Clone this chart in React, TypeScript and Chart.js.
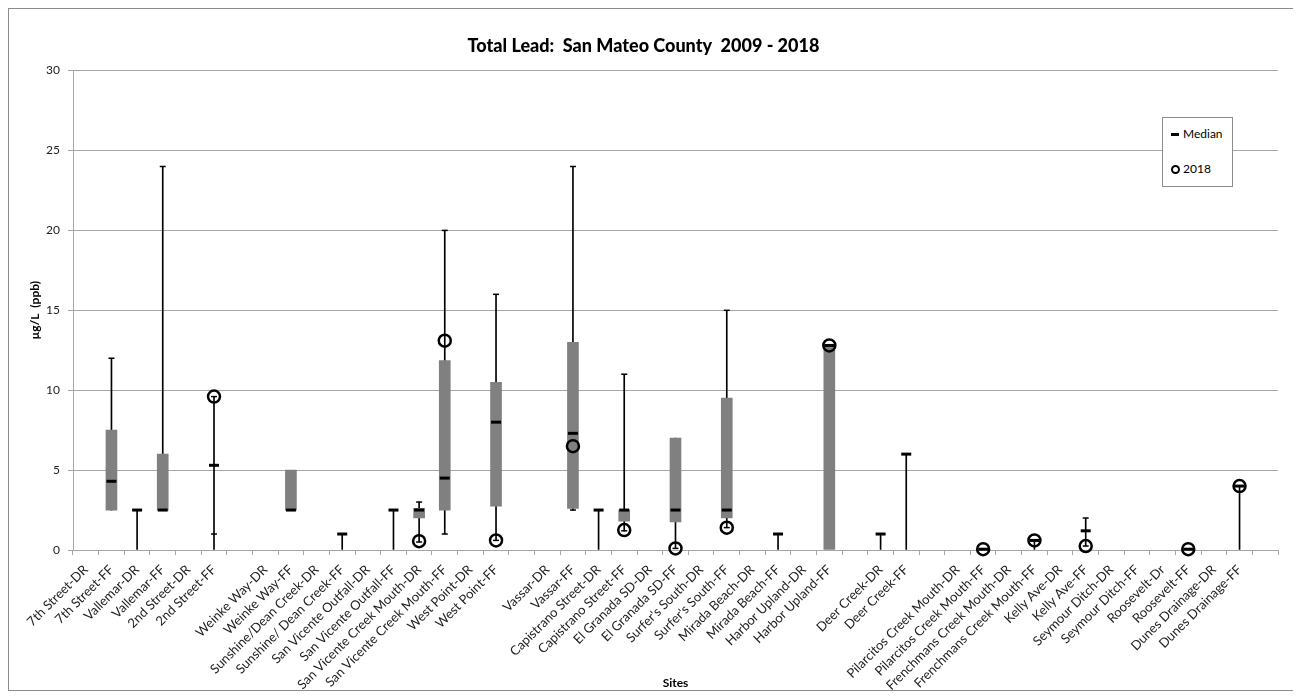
import React, { useEffect, useRef } from "react";
import { Chart, registerables } from "chart.js";

Chart.register(...registerables);

const N = null;

const SITES: string[] = [
  "7th Street-DR", "7th Street-FF", "Vallemar-DR", "Vallemar-FF", "2nd Street-DR", "2nd Street-FF", "",
  "Weinke Way-DR", "Weinke Way-FF", "Sunshine/Dean Creek-DR", "Sunshine/ Dean Creek-FF",
  "San Vicente Outfall-DR", "San Vicente Outfall-FF", "San Vicente Creek Mouth-DR", "San Vicente Creek Mouth-FF",
  "West Point-DR", "West Point-FF", "",
  "Vassar-DR", "Vassar-FF", "Capistrano Street-DR", "Capistrano Street-FF", "El Granada SD-DR", "El Granada SD-FF",
  "Surfer's South-DR", "Surfer's South-FF", "Mirada Beach-DR", "Mirada Beach-FF", "Harbor Upland-DR", "Harbor Upland-FF", "",
  "Deer Creek-DR", "Deer Creek-FF", "",
  "Pilarcitos Creek Mouth-DR", "Pilarcitos Creek Mouth-FF", "Frenchmans Creek Mouth-DR", "Frenchmans Creek Mouth-FF",
  "Kelly Ave-DR", "Kelly Ave-FF", "Seymour Ditch-DR", "Seymour Ditch-FF", "Roosevelt-Dr", "Roosevelt-FF",
  "Dunes Drainage-DR", "Dunes Drainage-FF", "",
];

// Box: first quartile
const Q1: (number | null)[] = [
  N, 2.5, N, 2.5, N, N, N, N, 2.5, N,
  N, N, N, 2.0, 2.5, N, 2.75, N, N, 2.6,
  N, 1.8, N, 1.75, N, 2.0, N, N, N, 0,
  N, N, N, N, N, N, N, N, N, N,
  N, N, N, N, N, N, N,
];
// Box: third quartile
const Q3: (number | null)[] = [
  N, 7.5, N, 6.0, N, N, N, N, 5.0, N,
  N, N, N, 2.6, 11.85, N, 10.5, N, N, 13.0,
  N, 2.5, N, 7.0, N, 9.5, N, N, N, 12.8,
  N, N, N, N, N, N, N, N, N, N,
  N, N, N, N, N, N, N,
];
const WHISKER_LOW: (number | null)[] = [
  N, 2.5, 0, 2.5, N, 0, N, N, N, N,
  0, N, 0, 0.5, 1.0, N, 0.6, N, N, 2.5,
  0, 1.2, N, 0.1, N, 1.4, N, 0, N, N,
  N, 0, 0, N, N, N, N, 0, N, 0.25,
  N, N, N, N, N, 0, N,
];
const WHISKER_HIGH: (number | null)[] = [
  N, 12, 2.5, 24, N, 9.6, N, N, N, N,
  1.0, N, 2.5, 3.0, 20, N, 16, N, N, 24,
  2.5, 11, N, 7.0, N, 15, N, 1.0, N, N,
  N, 1.0, 6.0, N, N, N, N, 0.6, N, 2.0,
  N, N, N, N, N, 4.0, N,
];
const MAX_CAP: (number | null)[] = [
  N, 12, N, 24, N, 9.6, N, N, N, N,
  N, N, N, 3.0, 20, N, 16, N, N, 24,
  N, 11, N, N, N, 15, N, N, N, N,
  N, N, N, N, N, N, N, N, N, 2.0,
  N, N, N, N, N, N, N,
];
const MIN_CAP: (number | null)[] = [
  N, N, N, N, N, 1.0, N, N, N, N,
  N, N, N, 0.5, 1.0, N, 0.6, N, N, 2.5,
  N, 1.2, N, 0.1, N, 1.4, N, N, N, N,
  N, N, N, N, N, N, N, N, N, 0.25,
  N, N, N, N, N, N, N,
];
const MEDIAN: (number | null)[] = [
  N, 4.3, 2.5, 2.5, N, 5.3, N, N, 2.5, N,
  1.0, N, 2.5, 2.5, 4.5, N, 8.0, N, N, 7.3,
  2.5, 2.5, N, 2.5, N, 2.5, N, 1.0, N, 12.8,
  N, 1.0, 6.0, N, N, 0.05, N, 0.6, N, 1.2,
  N, N, N, 0.05, N, 4.0, N,
];
const Y2018: (number | null)[] = [
  N, N, N, N, N, 9.6, N, N, N, N,
  N, N, N, 0.55, 13.1, N, 0.6, N, N, 6.5,
  N, 1.25, N, 0.1, N, 1.4, N, N, N, 12.8,
  N, N, N, N, N, 0.05, N, 0.6, N, 0.25,
  N, N, N, 0.05, N, 4.0, N,
];

const Y_TICKS = [0, 5, 10, 15, 20, 25, 30];

const FONT = "Lato, 'Open Sans', sans-serif";
const GRID = "#a6a6a6";

export default function App() {
  const ref = useRef<HTMLCanvasElement>(null);

  useEffect(() => {
    const boxes = Q1.map((q, i) => (q == null || Q3[i] == null ? null : [q, Q3[i] as number]));
    const whiskers = WHISKER_LOW.map((lo, i) =>
      lo == null || WHISKER_HIGH[i] == null ? null : [lo, WHISKER_HIGH[i] as number]
    );

    const chart = new Chart(ref.current as HTMLCanvasElement, {
      type: "bar",
      data: {
        labels: SITES,
        datasets: [
          {
            type: "line",
            label: "2018",
            data: Y2018 as any,
            showLine: false,
            pointStyle: "circle",
            pointRadius: 6,
            pointBorderWidth: 2.5,
            pointBorderColor: "#000",
            pointBackgroundColor: "rgba(0,0,0,0)",
            clip: false as any,
            order: 1,
          } as any,
          {
            type: "line",
            label: "Median",
            data: MEDIAN as any,
            showLine: false,
            pointStyle: "line",
            pointRadius: 5,
            pointBorderWidth: 3,
            pointBorderColor: "#000",
            clip: false as any,
            order: 2,
          } as any,
          {
            type: "line",
            label: "Max",
            data: MAX_CAP as any,
            showLine: false,
            pointStyle: "line",
            pointRadius: 3,
            pointBorderWidth: 1.5,
            pointBorderColor: "#000",
            clip: false as any,
            order: 3,
          } as any,
          {
            type: "line",
            label: "Min",
            data: MIN_CAP as any,
            showLine: false,
            pointStyle: "line",
            pointRadius: 3,
            pointBorderWidth: 1.5,
            pointBorderColor: "#000",
            clip: false as any,
            order: 3,
          } as any,
          {
            label: "Box",
            data: boxes as any,
            backgroundColor: "#808080",
            borderWidth: 0,
            barThickness: 11,
            grouped: false,
            order: 4,
          } as any,
          {
            label: "Whisker",
            data: whiskers as any,
            backgroundColor: "#000",
            borderWidth: 0,
            barThickness: 1,
            grouped: false,
            order: 5,
          } as any,
        ],
      },
      options: {
        responsive: false,
        animation: false,
        devicePixelRatio: 1,
        events: [],
        layout: { padding: { left: 0, right: 15, top: 0, bottom: 0 } },
        plugins: {
          legend: { display: false },
          tooltip: { enabled: false },
          title: {
            display: true,
            text: "Total Lead:  San Mateo County  2009 - 2018",
            color: "#000",
            font: { family: FONT, size: 18, weight: "900" },
            padding: { top: 26, bottom: 14 },
          },
        },
        scales: {
          x: {
            type: "category",
            offset: true,
            grid: {
              display: true,
              offset: true,
              drawOnChartArea: false,
              drawTicks: true,
              tickLength: 5,
              color: GRID,
            },
            border: { display: true, color: GRID, width: 1 },
            ticks: {
              autoSkip: false,
              maxRotation: 45,
              minRotation: 45,
              color: "#222",
              padding: 7,
              font: { family: FONT, size: 13 },
            },
            title: {
              display: true,
              text: "Sites",
              color: "#000",
              font: { family: FONT, size: 12, weight: "bold" },
              padding: { top: 0, bottom: 0 },
            },
            afterFit: (s: any) => {
              s.height = 140;
            },
          },
          y: {
            type: "linear",
            min: 0,
            max: 30,
            afterBuildTicks: (s: any) => {
              s.ticks = Y_TICKS.map((v) => ({ value: v }));
            },
            grid: {
              color: GRID,
              lineWidth: 1,
              drawTicks: true,
              tickLength: 5,
            },
            border: { display: true, color: GRID, width: 1 },
            ticks: {
              color: "#222",
              padding: 8,
              font: { family: FONT, size: 12 },
            },
            title: {
              display: true,
              text: "µg/L  (ppb)",
              color: "#000",
              font: { family: FONT, size: 12, weight: "bold" },
              padding: { top: 19, bottom: 0 },
            },
            afterFit: (s: any) => {
              s.width = 64;
            },
          },
        },
      } as any,
    });
    return () => chart.destroy();
  }, []);

  return (
    <div
      style={{
        position: "relative",
        width: 1286,
        height: 683,
        border: "1px solid #8c8c8c",
        boxSizing: "border-box",
        background: "#fff",
      }}
    >
      <canvas ref={ref} width={1284} height={681} style={{ display: "block", width: 1284, height: 681 }} />
      <div
        style={{
          position: "absolute",
          left: 1153,
          top: 108,
          width: 71,
          height: 70,
          border: "1px solid #8c8c8c",
          boxSizing: "border-box",
          background: "#fff",
          fontFamily: FONT,
          fontSize: 12,
          color: "#000",
        }}
      >
        <div style={{ position: "absolute", left: 8, top: 15, width: 8, height: 3, background: "#000" }} />
        <div style={{ position: "absolute", left: 20, top: 9, lineHeight: "14px" }}>Median</div>
        <div
          style={{
            position: "absolute",
            left: 8,
            top: 47,
            width: 9,
            height: 9,
            borderRadius: "50%",
            border: "2px solid #000",
            boxSizing: "border-box",
          }}
        />
        <div style={{ position: "absolute", left: 20, top: 44, lineHeight: "14px" }}>2018</div>
      </div>
    </div>
  );
}
